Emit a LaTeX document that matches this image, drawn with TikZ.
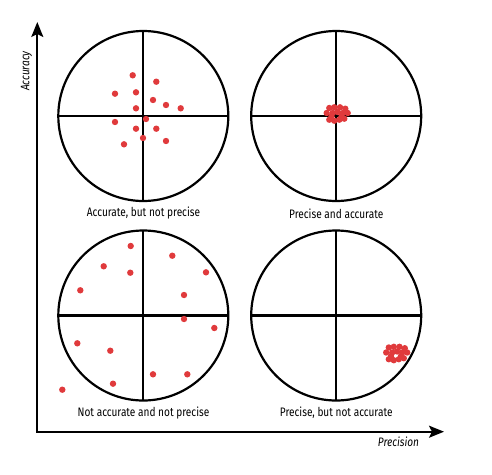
\documentclass[tikz,border=0pt]{standalone}
\usepackage{fontspec}
\setmainfont{Fira Sans}[FakeStretch=0.82]
\usetikzlibrary{arrows.meta}
\definecolor{dotred}{HTML}{E03A3C}
\begin{document}
\begin{tikzpicture}[x=1pt,y=-1pt,
  target/.style={draw=black,line width=2.2pt},
  cross/.style={draw=black,line width=2.2pt},
  axis/.style={draw=black,line width=1.7pt,-{Stealth[length=15pt,width=12pt,inset=3pt]}},
  lbl/.style={font=\fontsize{12.3}{14}\selectfont,inner sep=0pt,anchor=base},
  axlbl/.style={font=\fontsize{12.3}{14}\selectfont\itshape,inner sep=0pt},
  dot/.style={fill=dotred}]
\useasboundingbox (0,0) rectangle (492,474);
% centres
\coordinate (c1) at (143.3,116);
\coordinate (c2) at (336.2,116);
\coordinate (c3) at (143.3,315.5);
\coordinate (c4) at (336.2,315.5);
\def\R{85}
% targets
\foreach \c in {c1,c2,c3,c4}{
  \draw[target] (\c) circle (\R);
  \draw[cross] ([xshift=-\R pt]\c) -- ([xshift=\R pt]\c);
  \draw[cross] ([yshift=\R pt]\c) -- ([yshift=-\R pt]\c);
}
% axes
\coordinate (o) at (37.3,431.7);
\coordinate (ytip) at (37.3,22);
\coordinate (xtip) at (444,431.7);
\draw[axis] ([yshift=-0.85pt]o) -- (ytip);
\draw[axis] ([xshift=-0.85pt]o) -- (xtip);
\node[axlbl,rotate=90] (acc) at (26.5,71) {Accuracy};
\node[axlbl] (prec) at (398.5,442) {Precision};
% labels
\node[lbl] (l1) at (143.5,216) {Accurate, but not precise};
\node[lbl] (l2) at (336.2,218.5) {Precise and accurate};
\node[lbl] (l3) at (143.5,416.5) {Not accurate and not precise};
\node[lbl] (l4) at (336.2,416.5) {Precise, but not accurate};
% dots: accurate, not precise
\foreach \x/\y in {132.7/75.3,156.3/81.7,115/93.7,136/92.3,153/100,166/105,180.7/108.3,136/108.3,
  146/119,115/122,136/128.7,156.3/128.7,143/138,166/141,124/144.3}
  \fill[dot] (\x,\y) circle (3.2);
% dots: not accurate, not precise
\foreach \x/\y in {130.7/246,172.3/255.7,103.7/266.3,130.3/272.7,206/272.3,80.3/290.3,184/295,
  184/319,214.3/328,77.3/343.3,110.3/350.7,153/374.3,187.3/374.3,113/383.7,62.3/389.7}
  \fill[dot] (\x,\y) circle (3.2);
% clusters
\foreach \sx/\sy in {0/0,59.5/239.5}{
  \begin{scope}[shift={(\sx,\sy)}]
  \foreach \x/\y in {329.3/108,334.3/107.3,340/107.3,345.3/108.7,
    326.7/113,332.7/113,337.5/112,342.7/113,347.7/113,
    329.3/119.7,334.3/120.7,339.3/119.7,344.3/118.7,331.5/116.5,341.5/116.5}
    \fill[dot] (\x,\y) circle (3.2);
  \end{scope}
}
\end{tikzpicture}
\end{document}
